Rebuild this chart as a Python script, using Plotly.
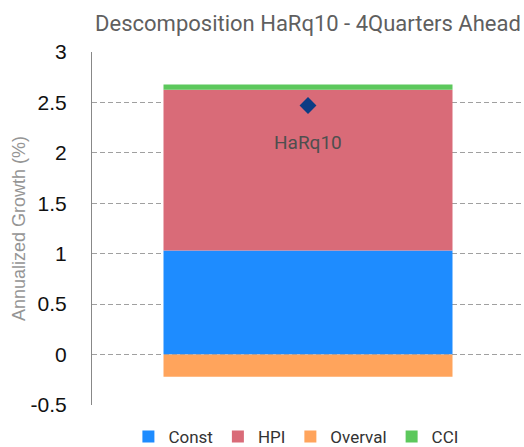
import plotly.graph_objects as go

categories = ["HaRq10"]
const_vals = [1.033]
hpi_vals = [1.593]
overval_vals = [-0.22]
cci_vals = [0.052]
total_vals = [2.47]
series_names = ["Const", "HPI", "Overval", "CCI"]
series_colors = ["#1E8CFF", "#D96B78", "#FFA45C", "#5CC85C"]
y_ticks = [-0.5, 0, 0.5, 1, 1.5, 2, 2.5, 3]
y_tick_labels = ["-0.5", "0", "0.5", "1", "1.5", "2", "2.5", "3"]

NARROW = "Roboto, sans-serif"
REG = "Liberation Sans, Arial, Helvetica, sans-serif"

fig = go.Figure()
for name, vals, col in zip(series_names, [const_vals, hpi_vals, overval_vals, cci_vals], series_colors):
    fig.add_trace(go.Bar(x=categories, y=vals, name=name, marker=dict(color=col, line=dict(width=0))))

fig.add_trace(go.Scatter(x=categories, y=total_vals, mode="markers", showlegend=False,
                         marker=dict(symbol="diamond", size=13, color="#0C3C84")))
fig.add_annotation(x=categories[0], y=total_vals[0], text=categories[0], showarrow=False,
                   yshift=-37, font=dict(family=NARROW, size=19, color="#4F4F4F"))

fig.update_layout(
    width=524, height=447,
    margin=dict(l=92, r=0, t=52, b=42),
    paper_bgcolor="white", plot_bgcolor="white",
    barmode="relative", bargap=0.331,
    title=dict(text="Descomposition HaRq10 - 4Quarters Ahead", x=0.5, xref="paper",
               y=1 - 23 / 447, yref="container", yanchor="middle", xanchor="center",
               font=dict(family=NARROW, size=22, color="#5F5F5F")),
    showlegend=True,
    legend=dict(orientation="h", x=0.472, xanchor="center", xref="paper",
                y=1 - 437 / 447, yref="container", yanchor="middle",
                font=dict(family=NARROW, size=17, color="#333333"),
                traceorder="normal"),
    xaxis=dict(showticklabels=False, showgrid=False, zeroline=False, showline=False,
               range=[-0.5, 0.5]),
    yaxis=dict(range=[-0.5, 3], tickvals=y_ticks, ticktext=y_tick_labels,
               showgrid=True, gridcolor="#A0A0A0", griddash="5px,3px", gridwidth=1,
               zeroline=False, showline=True, linecolor="#888888", linewidth=1,
               ticks="", ticklabelstandoff=20,
               tickfont=dict(family=REG, size=21, color="#111111"),
               title=dict(text="Annualized Growth (%)", standoff=0,
                          font=dict(family=REG, size=18, color="#959595"))),
)

fig.write_html("out.html", config={"displayModeBar": False},
               post_script="document.body.style.margin='0';document.body.style.padding='0';")
